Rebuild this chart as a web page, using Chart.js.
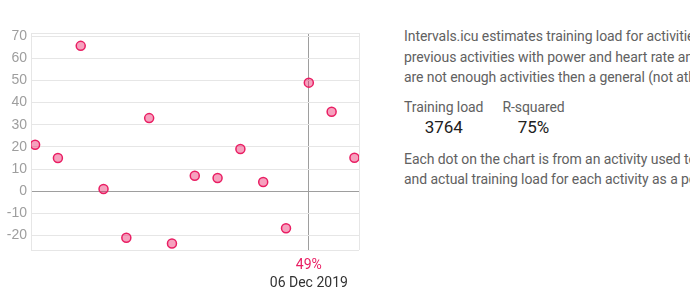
<!DOCTYPE html>
<html>
<head>
<meta charset="utf-8">
<script src="https://cdn.jsdelivr.net/npm/chart.js@4"></script>
<style>
    body { margin: 0; background: #fff; width: 690px; height: 303px; overflow: hidden; position: relative; font-family: Roboto, sans-serif; }
    #wrap { position: absolute; left: 0; top: 0; width: 366px; height: 303px; }
    #info { position: absolute; left: 404px; top: 26px; color: #616161; font-size: 14px; letter-spacing: -0.08px; white-space: nowrap; }
    #info p { margin: 0; line-height: 20.5px; }
    .stats { display: flex; gap: 19px; margin: 9px 0 12px 0; }
    .stat { text-align: center; line-height: 20px; }
    .stat b { display: block; font-weight: 400; color: #212121; font-size: 17px; }
</style>
</head>
<body>
<div id="wrap"><canvas id="fit" width="366" height="303"></canvas></div>
<div id="info">
    <p>Intervals.icu estimates training load for activities without power using a model fitted to your</p>
    <p>previous activities with power and heart rate and the heart rate data for the activity. If there</p>
    <p>are not enough activities then a general (not athlete specific) model is used.</p>
    <div class="stats">
        <div class="stat">Training load<b>3764</b></div>
        <div class="stat">R-squared<b>75%</b></div>
    </div>
    <p>Each dot on the chart is from an activity used to build the model. It shows the error between predicted</p>
    <p>and actual training load for each activity as a percentage.</p>
</div>
<script>
const errors = [21, 15, 65.6, 1, -21, 33, -23.6, 7, 6, 19.1, 4.2, -16.7, 49, 35.9, 15.1];
const yTicks = [70, 60, 50, 40, 30, 20, 10, 0, -10, -20];
const selected = 12;
const selectedLabel = "49%";
const selectedDate = "06 Dec 2019";

const points = errors.map((v, i) => ({ x: i, y: v }));
const xMin = -0.18, xMax = 14.2;
const yMin = -26.5, yMax = 71.4;

const ctx = document.getElementById("fit");

new Chart(ctx, {
    type: "scatter",
    data: {
        datasets: [{
            data: points,
            backgroundColor: "rgba(233, 30, 99, 0.42)",
            borderColor: "#e91e63",
            borderWidth: 1.5,
            pointRadius: 4.5,
        }]
    },
    options: {
        animation: false,
        responsive: false,
        maintainAspectRatio: false,
        layout: { padding: { top: 33, right: 0, left: 0, bottom: 4 } },
        plugins: { legend: { display: false }, tooltip: { enabled: false } },
        scales: {
            x: {
                type: "linear",
                min: xMin,
                max: xMax,
                afterBuildTicks: (axis) => { axis.ticks = [{ value: xMin }, { value: selected }, { value: xMax }]; },
                afterFit: (axis) => { axis.height = 23; },
                grid: {
                    drawTicks: false,
                    color: (c) => c.tick && c.tick.value === selected ? "#9e9e9e" : "#e6e6e6",
                },
                border: { display: false },
                ticks: {
                    autoSkip: false,
                    maxRotation: 0,
                    padding: 7,
                    color: "#e91e63",
                    font: { family: "Roboto", size: 14 },
                    callback: (v) => v === selected ? selectedLabel : "",
                }
            },
            x2: {
                type: "linear",
                position: "bottom",
                min: xMin,
                max: xMax,
                afterBuildTicks: (axis) => { axis.ticks = [{ value: selected }]; },
                afterFit: (axis) => { axis.height = 26; },
                grid: { display: false, drawTicks: false },
                border: { display: false },
                ticks: {
                    autoSkip: false,
                    maxRotation: 0,
                    padding: 2,
                    color: "#333333",
                    font: { family: "Roboto", size: 14 },
                    callback: () => selectedDate,
                }
            },
            y: {
                min: yMin,
                max: yMax,
                afterBuildTicks: (axis) => { axis.ticks = [{ value: yMax }].concat(yTicks.map(v => ({ value: v }))).concat([{ value: yMin }]); },
                afterFit: (axis) => { axis.width = 31; },
                grid: {
                    drawTicks: false,
                    color: (c) => c.tick && c.tick.value === 0 ? "#9e9e9e" : "#e6e6e6",
                },
                border: { color: "#e6e6e6" },
                ticks: {
                    autoSkip: false,
                    padding: 4,
                    color: "#9e9e9e",
                    font: { family: "'Liberation Sans', Arial", size: 14 },
                    callback: (v) => yTicks.includes(v) ? v : "",
                }
            }
        }
    }
});
</script>
</body>
</html>
